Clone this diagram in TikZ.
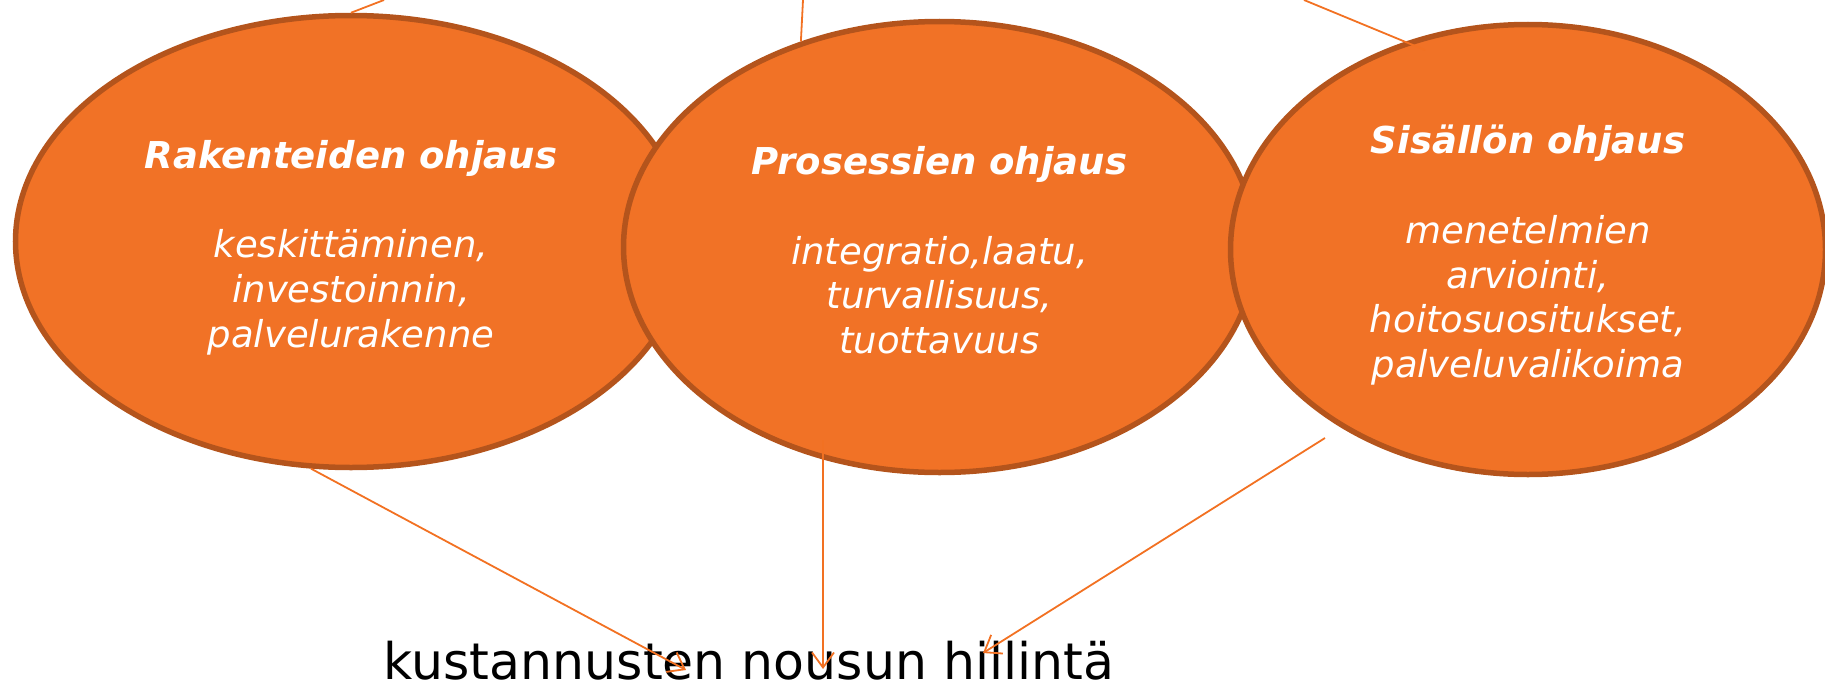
\documentclass[tikz,border=0pt]{standalone}
\usepackage{fontspec}
\setmainfont{DejaVu Sans}
\usetikzlibrary{shapes.geometric,arrows.meta}
\definecolor{ofill}{RGB}{241,114,38}
\definecolor{oborder}{RGB}{180,84,28}
\definecolor{oline}{RGB}{242,113,34}
\tikzset{
  oval/.style={ellipse, draw=oborder, fill=ofill, line width=5.5pt, inner sep=0pt,
    text=white, align=center, font=\fontsize{37}{44.7}\selectfont\itshape},
  link/.style={draw=oline, line width=1.8pt},
  arr/.style={link, -{Straight Barb[length=15pt,width=22pt,line width=1.8pt]}},
}
\begin{document}
\begin{tikzpicture}[x=1pt,y=-1pt]
\useasboundingbox (0,0) rectangle (1825,685);
\node[oval, minimum width=671pt, minimum height=452pt] (e1) at (351,241.5)
  {\rule{0pt}{40pt}\textbf{Rakenteiden ohjaus}\\[44.7pt] keskittäminen,\\ investoinnin,\\ palvelurakenne};
\node[oval, minimum width=632pt, minimum height=451pt] (e2) at (939.5,247)
  {\rule{0pt}{35pt}\textbf{Prosessien ohjaus}\\[44.7pt] integratio,laatu,\\ turvallisuus,\\ tuottavuus};
\node[oval, minimum width=595pt, minimum height=450pt] (e3) at (1528,249.5)
  {\rule{0pt}{40pt}\textbf{Sisällön ohjaus}\\[44.7pt] menetelmien\\ arviointi,\\ hoitosuositukset,\\ palveluvalikoima};
\node[anchor=base, inner sep=0pt, font=\fontsize{50.5}{58}\selectfont] (goal) at (749,679) {kustannusten nousun hillintä};
% free ends at top
\coordinate (u1) at (384,0);
\coordinate (u2) at (803,0);
\coordinate (u3) at (1304,0);
\coordinate (l3) at (1425,50);
\coordinate (s2) at (823,440);
\coordinate (s3) at (1325,438);
\coordinate (t1) at (686,670);
\coordinate (t2) at (823,669);
\coordinate (t3) at (983,653);
\draw[link] (u1) -- (e1.north);
\draw[link] (u2) -- (e2.124.6);
\draw[link] (u3) -- (l3);
\draw[arr] (e1.-100) -- (t1);
\draw[arr] (s2) -- (t2);
\draw[arr] (s3) -- (t3);
\end{tikzpicture}
\end{document}
